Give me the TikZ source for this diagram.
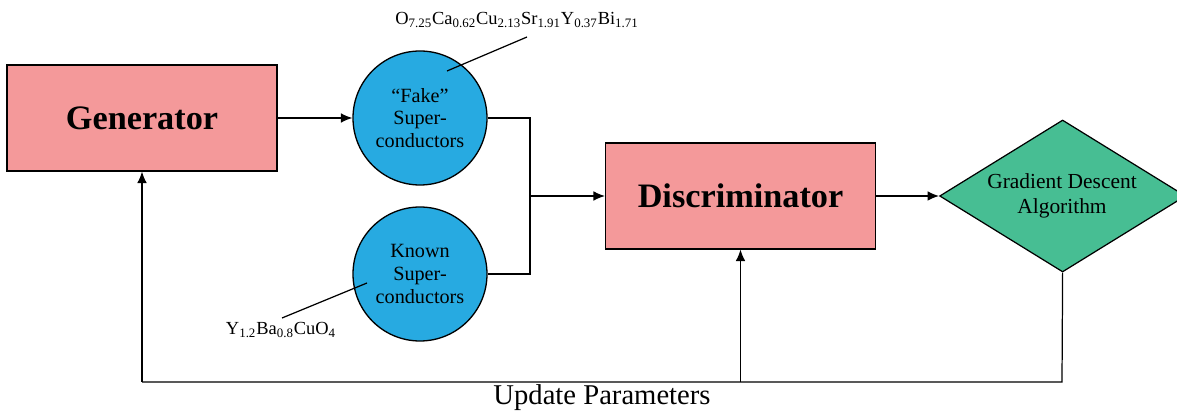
\documentclass[tikz,border=0pt]{standalone}
\usepackage{fontspec}
\setmainfont{Liberation Serif}
\usetikzlibrary{shapes.geometric,arrows.meta}
\definecolor{boxpink}{HTML}{F4999A}
\definecolor{circblue}{HTML}{27AAE1}
\definecolor{diagreen}{HTML}{47BE93}
\tikzset{
  boxnode/.style={draw=black, fill=boxpink, line width=0.7pt, minimum width=270*0.02cm, minimum height=106*0.02cm, inner sep=0pt, font=\fontsize{19.5}{24}\selectfont\bfseries},
  circnode/.style={draw=black, fill=circblue, line width=0.75pt, circle, minimum size=134*0.02cm, inner sep=0pt, align=center, font=\fontsize{11.5}{13}\selectfont},
  dianode/.style={draw=black, fill=diagreen, line width=0.7pt, diamond, minimum width=246*0.02cm, minimum height=152*0.02cm, inner sep=0pt, align=center},
  conn/.style={line width=0.7pt},
  arr/.style={conn, -{Latex[length=6.5pt,width=5.5pt]}},
  formula/.style={font=\fontsize{10.5}{11}\selectfont, inner sep=0pt}
}
\begin{document}
\begin{tikzpicture}[x=0.02cm, y=-0.02cm]
\useasboundingbox (0,0) rectangle (1177,411);
\node[boxnode] (gen) at (142,118) {Generator};
\node[circnode] (fake) at (420,118) {“Fake”\\Super-\\conductors};
\node[circnode] (known) at (420,274) {Known\\Super-\\conductors};
\node[boxnode] (disc) at (740.5,196) {Discriminator};
\node[dianode, anchor=west] (gda) at (939,196) {};
\node[font=\fontsize{12.2}{14}\selectfont, align=center] (gdatext) at (1062,196) {Gradient Descent\\Algorithm};
\coordinate (junc) at (530,196);
\coordinate (fakeout) at (530,118);
\coordinate (knownout) at (530,274);
\coordinate (br) at (1062,382);
\coordinate (bl) at (142,382);
\coordinate (bm) at (740.5,382);
\node[font=\fontsize{16.3}{18}\selectfont, inner sep=0pt] (upd) at (602,398) {Update Parameters};
\node[formula] (f1) at (517,20) {O\textsubscript{7.25}Ca\textsubscript{0.62}Cu\textsubscript{2.13}Sr\textsubscript{1.91}Y\textsubscript{0.37}Bi\textsubscript{1.71}};
\node[formula] (f2) at (281,330) {Y\textsubscript{1.2}Ba\textsubscript{0.8}CuO\textsubscript{4}};
\coordinate (f1a) at (527,37);
\coordinate (f1b) at (447,71);
\coordinate (f2a) at (282,318);
\coordinate (f2b) at (367,283);

\draw[arr] (gen.east) -- (fake.west);
\draw[conn] (fake.east) -- (fakeout) -- (knownout) -- (known.east);
\draw[arr] (junc) -- (disc.west);
\draw[arr] (disc.east) -- (gda.west);
\draw[conn] (gda.south) -- (br) -- (bl);
\draw[arr] (bl) -- (gen.south);
\draw[arr] (bm) -- (disc.south);
\draw[conn] (f1a) -- (f1b);
\draw[conn] (f2a) -- (f2b);
\end{tikzpicture}
\end{document}
